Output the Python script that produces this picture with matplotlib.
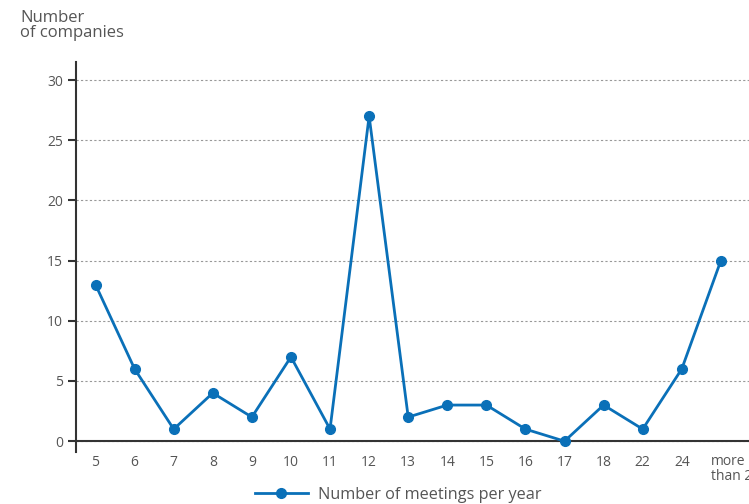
import matplotlib.pyplot as plt
import numpy as np

# meetings per year vs number of companies
categories = ['5', '6', '7', '8', '9', '10', '11', '12', '13', '14', '15',
              '16', '17', '18', '22', '24', 'more\nthan 24']
companies = [13, 6, 1, 4, 2, 7, 1, 27, 2, 3, 3, 1, 0, 3, 1, 6, 15]
yticks = [0, 5, 10, 15, 20, 25, 30]

blue = '#0a70b8'
grey = '#555555'

plt.rcParams['font.family'] = ['Open Sans', 'DejaVu Sans']

fig = plt.figure(figsize=(7.49, 5.04), dpi=100)
W, H = 749, 504
left_px, right_px = 76, 749
top_px, bot_px = 62, 452
ax = fig.add_axes([left_px / W, 1 - bot_px / H, (right_px - left_px) / W, (bot_px - top_px) / H])

x = np.arange(len(categories))
ax.plot(x, companies, color=blue, linewidth=2, marker='o', markersize=7,
        label='Number of meetings per year', clip_on=False, zorder=3)

ax.set_xlim(-0.5, 16.72)
ax.set_ylim(-0.9, 31.5)
ax.set_yticks(yticks)
ax.set_xticks(x[:-1])
ax.set_xticklabels(categories[:-1])
# last category label is left-aligned and runs off the right edge (as in the original)
ax.text(x[-1] - 0.26, -1.05, categories[-1], ha='left', va='top', fontsize=10,
        color=grey, linespacing=1.0, clip_on=False)

ax.spines['top'].set_visible(False)
ax.spines['right'].set_visible(False)
ax.spines['bottom'].set_position(('data', 0))
ax.spines['left'].set_color('#333333')
ax.spines['bottom'].set_color('#333333')
ax.spines['left'].set_linewidth(1.5)
ax.spines['bottom'].set_linewidth(1.5)

ax.tick_params(axis='x', length=0, pad=10, labelsize=10, labelcolor=grey)
ax.tick_params(axis='y', length=6, width=1.5, color='#333333', labelsize=10,
               labelcolor=grey, direction='out')
ax.yaxis.grid(True, linestyle=(0, (2, 2)), color='#999999', linewidth=0.8)
ax.set_axisbelow(True)

fig.text(20 / W, 1 - 10 / H, 'Number\nof companies', ha='left', va='top',
         fontsize=12, color=grey, linespacing=0.9)

fig.legend(loc='center', bbox_to_anchor=(398 / W, 1 - 495 / H), frameon=False,
           fontsize=11.7, labelcolor=grey, handlelength=3.3, handletextpad=0.6)

fig.savefig('out.png', dpi=100)
